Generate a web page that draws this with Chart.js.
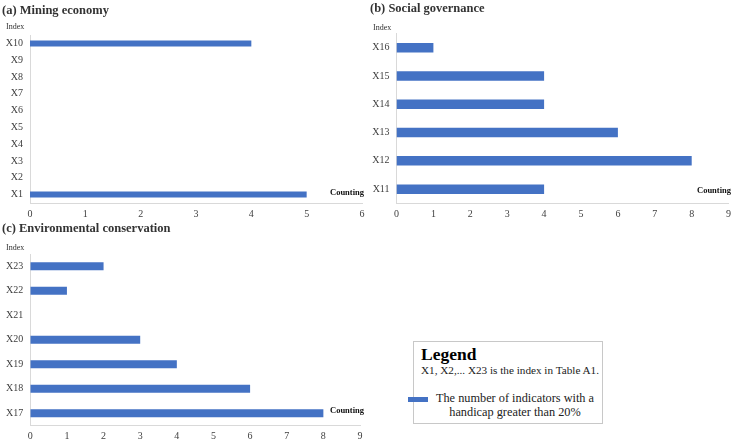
<!DOCTYPE html>
<html>
<head>
<meta charset="utf-8">
<script src="https://cdn.jsdelivr.net/npm/chart.js@4.4.1/dist/chart.umd.min.js"></script>
<style>
  html, body { margin:0; padding:0; background:#fff; }
  #wrap { position:relative; width:733px; height:442px; overflow:hidden; font-family:"Liberation Serif","Times New Roman",serif; }
  canvas { position:absolute; left:0; top:0; }
  .t { position:absolute; white-space:nowrap; color:#333; }
  .title { font-weight:bold; font-size:12.5px; }
  .idx { font-size:8px; color:#333; }
  .cnt { font-weight:bold; font-size:8.5px; color:#111; }
  #legend { position:absolute; left:413px; top:341px; width:190px; height:83px; border:1.5px solid #c8c8c8; box-sizing:border-box; background:#fff; }
</style>
</head>
<body>
<div id="wrap">
  <canvas id="cA" width="733" height="442"></canvas>
  <canvas id="cB" width="745" height="442"></canvas>
  <canvas id="cC" width="733" height="442"></canvas>

  <div class="t title" style="left:2px;top:2px;line-height:16px;">(a) Mining economy</div>
  <div class="t title" style="left:370px;top:0px;line-height:16px;">(b) Social governance</div>
  <div class="t title" style="left:2px;top:220px;line-height:16px;">(c) Environmental conservation</div>

  <div class="t idx" style="left:6px;top:21px;line-height:12px;">Index</div>
  <div class="t idx" style="left:373px;top:22px;line-height:12px;">Index</div>
  <div class="t idx" style="left:6px;top:242px;line-height:12px;">Index</div>

  <div class="t cnt" style="left:330px;top:186px;line-height:12px;">Counting</div>
  <div class="t cnt" style="left:697px;top:184px;line-height:12px;">Counting</div>
  <div class="t cnt" style="left:330px;top:404px;line-height:12px;">Counting</div>

  <div id="legend"></div>
  <div class="t" style="left:421px;top:343px;line-height:22px;font-size:17.5px;font-weight:bold;color:#000;">Legend</div>
  <div class="t" style="left:421px;top:363px;line-height:14px;font-size:11.2px;color:#222;">X1, X2,... X23 is the index in Table A1.</div>
  <div style="position:absolute;left:408px;top:397px;width:20px;height:5px;background:#4472C4;"></div>
  <div class="t" style="left:430px;top:391px;width:170px;text-align:center;line-height:14px;font-size:12.3px;color:#222;">The number of indicators with a<br>handicap greater than 20%</div>
</div>

<script>
// ---- data ----
const catsA = ['X1','X2','X3','X4','X5','X6','X7','X8','X9','X10'];
const valsA = [5, 0, 0, 0, 0, 0, 0, 0, 0, 4];
const catsB = ['X11','X12','X13','X14','X15','X16'];
const valsB = [4, 8, 6, 4, 4, 1];
const catsC = ['X17','X18','X19','X20','X21','X22','X23'];
const valsC = [8, 6, 4, 3, 0, 1, 2];
const maxA = 6, maxB = 9, maxC = 9;

const BLUE = '#4472C4';
const AXIS = '#d9d9d9';
const TICK = '#404040';
const FONT = "'Liberation Serif','Times New Roman',serif";

function makeChart(id, cats, vals, xMax, pad, yW, xH, thick) {
  return new Chart(document.getElementById(id), {
    type: 'bar',
    data: { labels: cats, datasets: [{ data: vals, backgroundColor: BLUE, borderWidth: 0, inflateAmount: 0, barThickness: thick }] },
    options: {
      indexAxis: 'y',
      responsive: false,
      animation: false,
      devicePixelRatio: 1,
      layout: { padding: pad },
      plugins: { legend: { display: false }, tooltip: { enabled: false } },
      scales: {
        x: {
          min: 0, max: xMax,
          ticks: { stepSize: 1, color: TICK, font: { family: FONT, size: 10 }, padding: 5, maxRotation: 0 },
          grid: { display: false, drawTicks: false },
          border: { display: true, color: AXIS, width: 1 },
          afterFit: s => { s.height = xH; }
        },
        y: {
          reverse: true,
          ticks: { color: TICK, font: { family: FONT, size: 10 }, padding: 7 },
          grid: { display: false, drawTicks: false },
          border: { display: true, color: AXIS, width: 1 },
          afterFit: s => { s.width = yW; }
        }
      }
    }
  });
}

makeChart('cA', catsA, valsA, maxA, { left: 0, right: 371, top: 35, bottom: 219 }, 30, 20, 6);
makeChart('cB', catsB, valsB, maxB, { left: 366.5, right: 16.4, top: 33.5, bottom: 218.7 }, 30, 20, 9.5);
makeChart('cC', catsC, valsC, maxC, { left: 0.3, right: 373, top: 254, bottom: 0.5 }, 30, 16, 8);
</script>
</body>
</html>
